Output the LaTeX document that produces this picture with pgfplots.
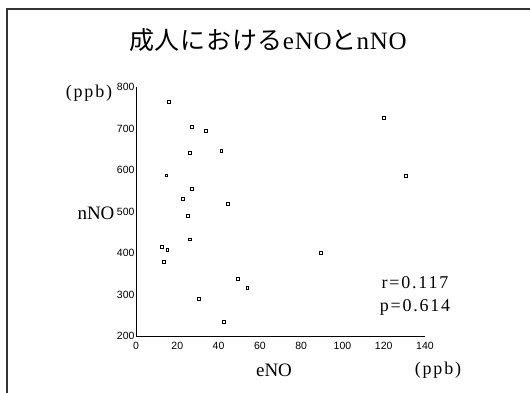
\documentclass[border=0pt]{standalone}
\usepackage{fontspec}
\setmainfont{Liberation Serif}
\newfontfamily\cjk{Noto Sans CJK JP}
\newfontfamily\ticksf{Liberation Sans}
\newfontfamily\spaced[LetterSpace=10]{Liberation Serif}
\usepackage{pgfplots}
\pgfplotsset{compat=1.18}
\begin{document}
\begin{tikzpicture}[x=1pt,y=1pt]
\useasboundingbox (0,0) rectangle (530,392);
\fill[white] (0,0) rectangle (530,392);
\draw[line width=1.3pt, black!80] (7,-2) -- (7,383) -- (532,383);
\begin{axis}[
  at={(136pt,56pt)}, anchor=origin,
  scale only axis, width=289pt, height=249pt,
  xmin=0, xmax=140, ymin=200, ymax=800,
  axis lines=left,
  axis line style={line width=0.8pt, -},
  xtick={0,20,...,140}, ytick={200,300,...,800},
  major tick length=0pt,
  tick label style={font=\ticksf\fontsize{10.5}{12}\selectfont},
  /pgf/number format/assume math mode=true,
  xticklabel style={yshift=-3pt},
  yticklabel style={xshift=2pt},
  clip=false,
]
\addplot[only marks, mark=square, mark size=1.4pt, mark options={line width=0.7pt, draw=black, fill=white}] coordinates {
(16.1,765) (27.1,704) (34.0,694) (26.0,642) (41.3,646) (14.7,587)
(27.1,555) (22.6,531) (44.4,518) (25.2,490) (26.0,433) (12.7,414)
(15.2,407) (13.4,379) (89.4,401) (120.1,726) (130.7,585)
(49.5,338) (53.9,316) (30.5,290) (42.5,235)
};
\end{axis}
\node[font=\fontsize{25}{28}\selectfont] at (268,352) {{\cjk\addfontfeatures{LetterSpace=3} 成人における}{\addfontfeatures{LetterSpace=3}eNO}{\cjk と}{\addfontfeatures{LetterSpace=3}nNO}};
\node[font=\spaced\fontsize{18}{20}\selectfont] at (89,299) {(ppb)};
\node[font=\fontsize{19}{22}\selectfont] at (96,179) {nNO};
\node[font=\fontsize{19}{22}\selectfont] at (274,22) {eNO};
\node[font=\spaced\fontsize{18}{20}\selectfont] at (438,22) {(ppb)};
\node[font=\spaced\fontsize{18}{20}\selectfont] at (415,109) {r=0.117};
\node[font=\spaced\fontsize{18}{20}\selectfont] at (415,85) {p=0.614};
\end{tikzpicture}
\end{document}
